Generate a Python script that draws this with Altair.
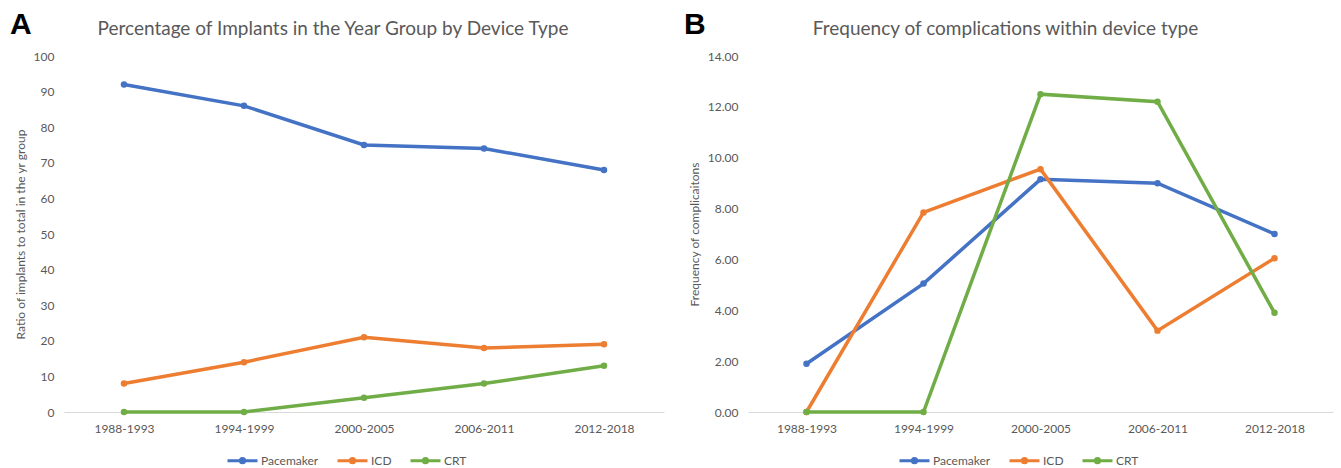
import altair as alt
import pandas as pd

# Year groups and device types
periods = ["1988-1993", "1994-1999", "2000-2005", "2006-2011", "2012-2018"]
devices = ["Pacemaker", "ICD", "CRT"]
device_colors = ["#4472C4", "#ED7D31", "#70AD47"]

# Percentage of implants in each year group, by device type
implants_pacemaker = [92, 86, 75, 74, 68]
implants_icd = [8, 14, 21, 18, 19]
implants_crt = [0, 0, 4, 8, 13]

# Frequency of complications within each device type
compl_pacemaker = [1.9, 5.05, 9.15, 9.0, 7.0]
compl_icd = [0.0, 7.85, 9.55, 3.2, 6.05]
compl_crt = [0.0, 0.0, 12.5, 12.2, 3.9]

FONT = "Lato"
GREY = "#595959"


def long_table(series):
    rows = []
    for device, values in zip(devices, series):
        for period, v in zip(periods, values):
            rows.append({"period": period, "device": device, "value": v})
    return pd.DataFrame(rows)


implants = long_table([implants_pacemaker, implants_icd, implants_crt])
complications = long_table([compl_pacemaker, compl_icd, compl_crt])

# Legend glyph: a short line with a dot in the middle
legend_glyph = "M-1,0L1,0M0.14,0A0.14,0.14,0,1,1,-0.14,0A0.14,0.14,0,1,1,0.14,0Z"


def panel(df, letter, title, title_dx, y_title, y_max, y_step, y_fmt, width, letter_x, legend_x):
    lines = alt.Chart(df).mark_line(
        strokeWidth=3.5,
        point=alt.OverlayMarkDef(size=42, filled=True),
    ).encode(
        x=alt.X(
            "period:N",
            sort=periods,
            scale=alt.Scale(type="point", padding=0.5),
            axis=alt.Axis(
                title=None, labelAngle=0, ticks=False, grid=False,
                domainColor="#D9D9D9", domainWidth=1,
                labelColor=GREY, labelFont=FONT, labelFontSize=12, labelPadding=11,
            ),
        ),
        y=alt.Y(
            "value:Q",
            scale=alt.Scale(domain=[0, y_max], nice=False, zero=True),
            axis=alt.Axis(
                title=y_title, values=[i * y_step for i in range(int(round(y_max / y_step)) + 1)],
                format=y_fmt, domain=False, ticks=False, grid=False,
                labelColor=GREY, labelFont=FONT, labelFontSize=12, labelPadding=10,
                titleColor=GREY, titleFont=FONT, titleFontSize=12, titleFontWeight="normal",
                titlePadding=6,
            ),
        ),
        color=alt.Color(
            "device:N",
            sort=devices,
            scale=alt.Scale(domain=devices, range=device_colors),
            legend=alt.Legend(
                title=None, orient="none", direction="horizontal",
                legendX=legend_x, legendY=388,
                symbolType=legend_glyph, symbolSize=900, symbolStrokeWidth=3,
                labelColor=GREY, labelFont=FONT, labelFontSize=12, labelOffset=2,
                columnPadding=12,
            ),
        ),
    )
    tag = alt.Chart(pd.DataFrame({"letter": [letter]})).mark_text(
        font="Liberation Sans", fontSize=30, fontWeight="bold", color="black",
        align="left", baseline="alphabetic",
    ).encode(
        text="letter:N",
        x=alt.value(letter_x),
        y=alt.value(-22),
    )
    return alt.layer(lines, tag).properties(
        width=width,
        height=356,
        title=alt.TitleParams(
            title, font=FONT, fontSize=19, fontWeight="normal", color=GREY,
            offset=-29, dx=title_dx,
        ),
    )


panel_a = panel(implants, "A", "Percentage of Implants in the Year Group by Device Type", -31,
                "Ratio of implants to total in the yr group", 100, 10, "d", 600, -54, 162)
panel_b = panel(complications, "B", "Frequency of complications within device type", -35,
                "Frequency of complicaitons", 14, 2, ".2f", 585, -64, 150)

chart = alt.hconcat(panel_a, panel_b, spacing=20).resolve_scale(
    color="independent"
).resolve_legend(
    color="independent"
).configure_view(
    stroke=None
).properties(
    padding={"left": 10, "top": 10, "right": 5, "bottom": 5},
    background="white",
)

chart.save("out.html", embed_options={"renderer": "svg", "actions": False})
